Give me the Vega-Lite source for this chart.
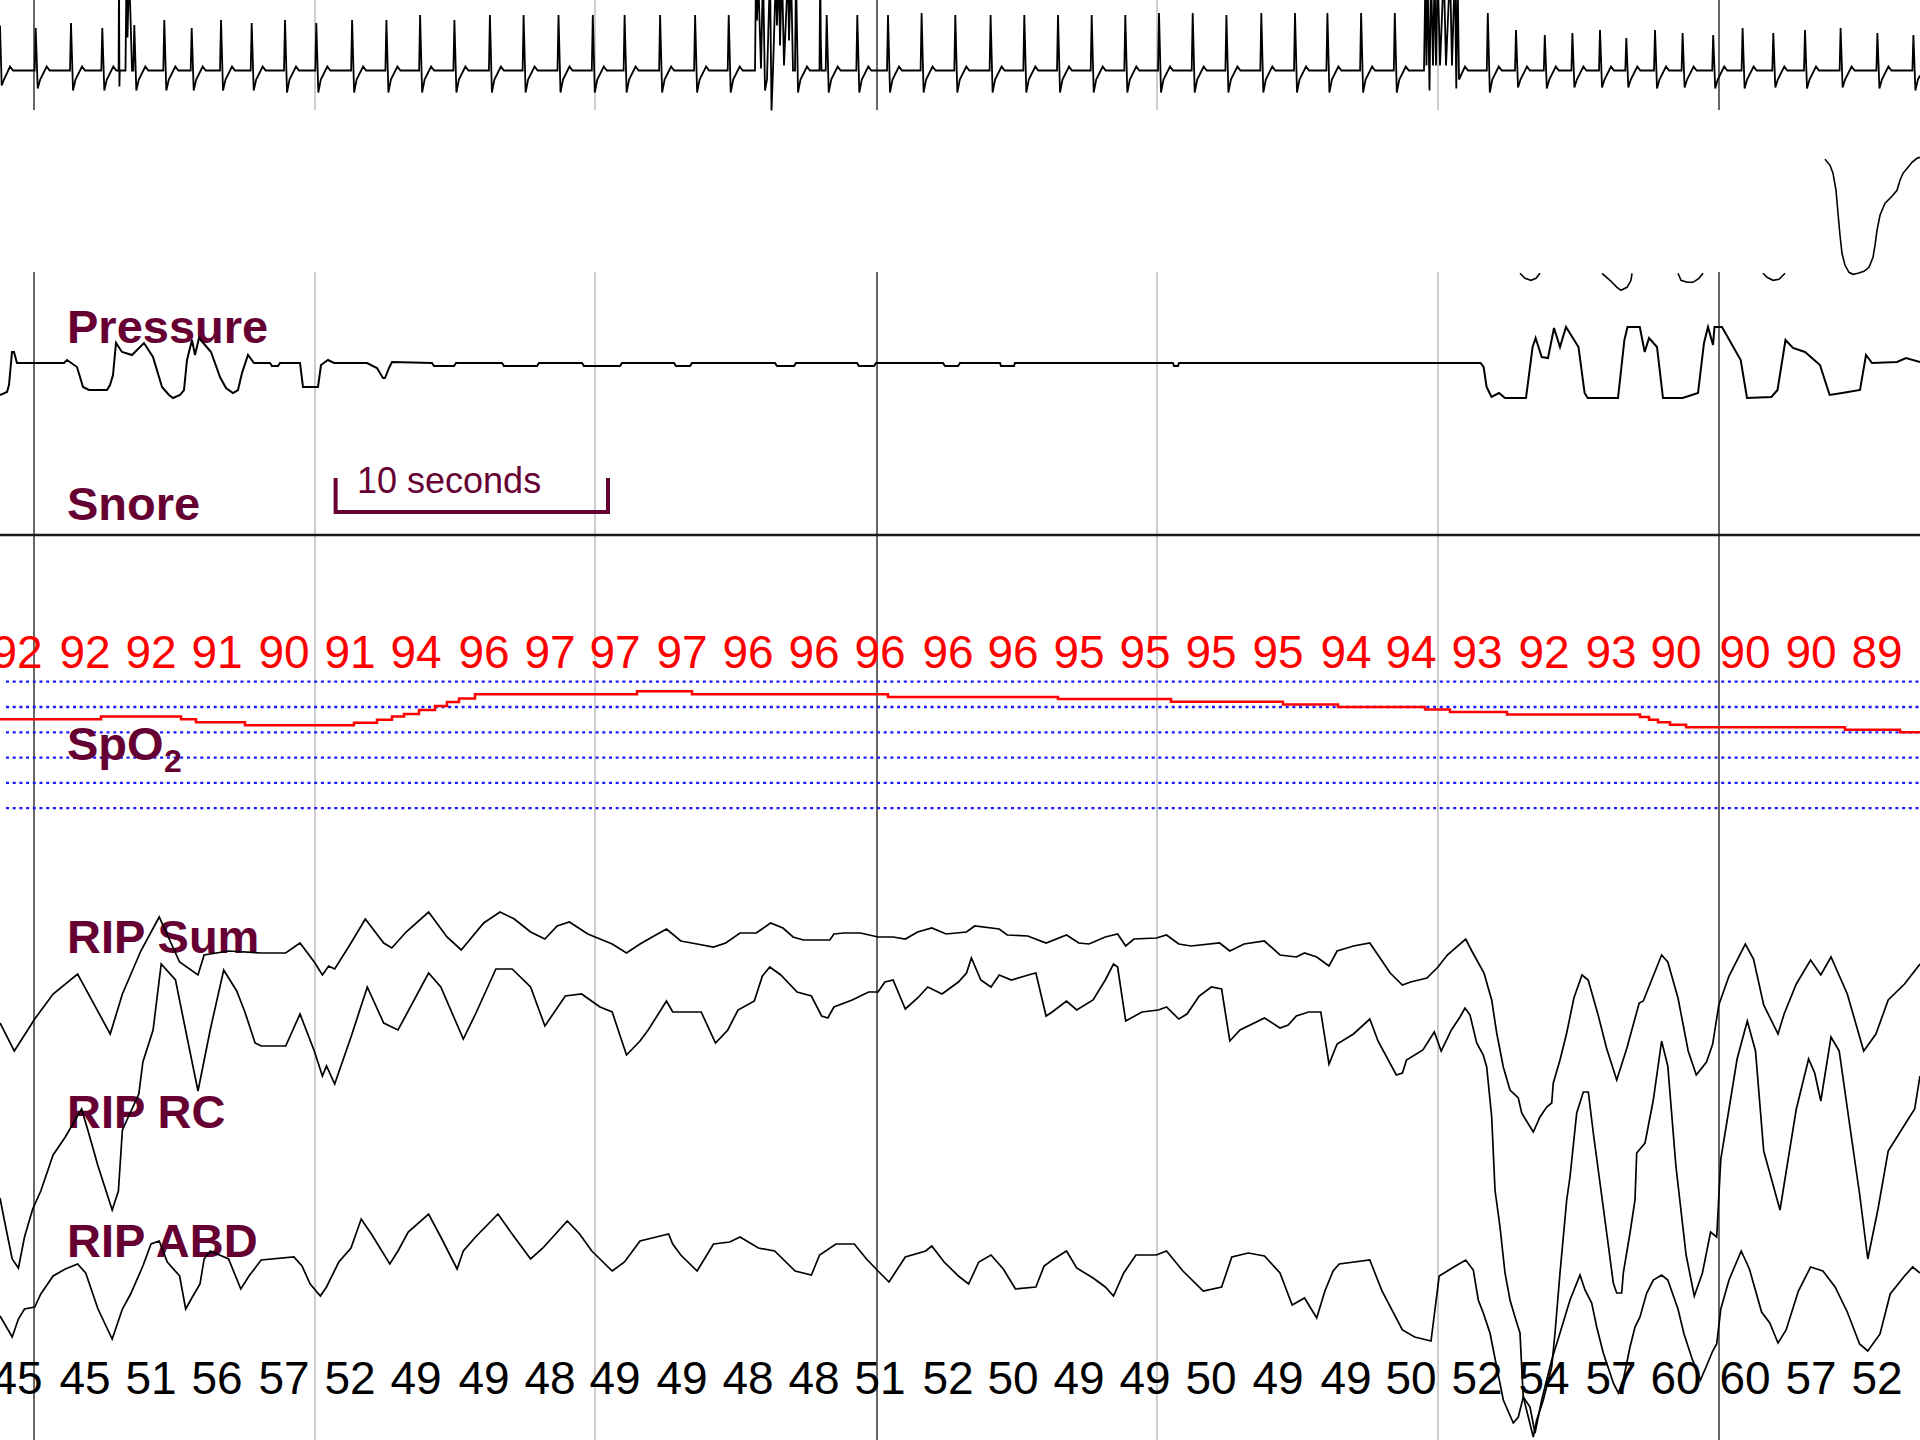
{
  "$schema": "https://vega.github.io/schema/vega-lite/v6.json",
  "width": 1920,
  "height": 1440,
  "padding": 0,
  "autosize": {"type": "none"},
  "background": "white",
  "config": {"view": {"stroke": null}},
  "datasets": {
    "grid": [
      {"t": 34, "kind": "major"}, {"t": 315, "kind": "minor"}, {"t": 595, "kind": "minor"},
      {"t": 877, "kind": "major"}, {"t": 1157, "kind": "minor"}, {"t": 1438, "kind": "minor"},
      {"t": 1719, "kind": "major"}
    ],
    "ecg": [
      {"t":0,"a":45},{"t":1.7,"a":-15},{"t":4,"a":-9},{"t":10,"a":4},{"t":13,"a":0},
      {"t":34.7,"a":0},{"t":35.7,"a":42.5},{"t":37.7,"a":-18},{"t":40.2,"a":-9},{"t":46.7,"a":4},{"t":49.7,"a":0},
      {"t":70,"a":0},{"t":71,"a":47.5},{"t":73,"a":-20},{"t":75.5,"a":-9},{"t":82,"a":4},{"t":85,"a":0},
      {"t":101.3,"a":0},{"t":102.3,"a":42.5},{"t":104.3,"a":-20},{"t":106.8,"a":-9},{"t":113.3,"a":4},{"t":116.3,"a":0},
      {"t":118.6,"a":0},{"t":119,"a":100},{"t":119.4,"a":-16},{"t":119.8,"a":0},{"t":125.5,"a":0},{"t":126.5,"a":100},{"t":127.5,"a":33},{"t":129,"a":100},{"t":130.5,"a":54},{"t":132,"a":0},
      {"t":133.3,"a":0},{"t":134.3,"a":45.5},{"t":136.3,"a":-20},{"t":138.8,"a":-9},{"t":145.3,"a":4},{"t":148.3,"a":0},
      {"t":163.3,"a":0},{"t":164.3,"a":50.5},{"t":166.3,"a":-20},{"t":168.8,"a":-9},{"t":175.3,"a":4},{"t":178.3,"a":0},
      {"t":190.7,"a":0},{"t":191.7,"a":42.5},{"t":193.7,"a":-20},{"t":196.2,"a":-9},{"t":202.7,"a":4},{"t":205.7,"a":0},
      {"t":220,"a":0},{"t":221,"a":50.5},{"t":223,"a":-20},{"t":225.5,"a":-9},{"t":232,"a":4},{"t":235,"a":0},
      {"t":250.7,"a":0},{"t":251.7,"a":47.5},{"t":253.7,"a":-20},{"t":256.2,"a":-9},{"t":262.7,"a":4},{"t":265.7,"a":0},
      {"t":284,"a":0},{"t":285,"a":50.5},{"t":287,"a":-22},{"t":289.5,"a":-9},{"t":296,"a":4},{"t":299,"a":0},
      {"t":315.3,"a":0},{"t":316.3,"a":47.5},{"t":318.3,"a":-22},{"t":320.8,"a":-9},{"t":327.3,"a":4},{"t":330.3,"a":0},
      {"t":351.1,"a":0},{"t":352.1,"a":50.5},{"t":354.1,"a":-22},{"t":356.6,"a":-9},{"t":363.1,"a":4},{"t":366.1,"a":0},
      {"t":385.4,"a":0},{"t":386.4,"a":50.5},{"t":388.4,"a":-22},{"t":390.9,"a":-9},{"t":397.4,"a":4},{"t":400.4,"a":0},
      {"t":419.1,"a":0},{"t":420.1,"a":55.5},{"t":422.1,"a":-22},{"t":424.6,"a":-9},{"t":431.1,"a":4},{"t":434.1,"a":0},
      {"t":453.4,"a":0},{"t":454.4,"a":50.5},{"t":456.4,"a":-22},{"t":458.9,"a":-9},{"t":465.4,"a":4},{"t":468.4,"a":0},
      {"t":488.9,"a":0},{"t":489.9,"a":55.5},{"t":491.9,"a":-22},{"t":494.4,"a":-9},{"t":500.9,"a":4},{"t":503.9,"a":0},
      {"t":522.6,"a":0},{"t":523.6,"a":55.5},{"t":525.6,"a":-22},{"t":528.1,"a":-9},{"t":534.6,"a":4},{"t":537.6,"a":0},
      {"t":557.5,"a":0},{"t":558.5,"a":55.5},{"t":560.5,"a":-22},{"t":563,"a":-9},{"t":569.5,"a":4},{"t":572.5,"a":0},
      {"t":591.8,"a":0},{"t":592.8,"a":55.5},{"t":594.8,"a":-22},{"t":597.3,"a":-9},{"t":603.8,"a":4},{"t":606.8,"a":0},
      {"t":623.6,"a":0},{"t":624.6,"a":55.5},{"t":626.6,"a":-22},{"t":629.1,"a":-9},{"t":635.6,"a":4},{"t":638.6,"a":0},
      {"t":659.1,"a":0},{"t":660.1,"a":55.5},{"t":662.1,"a":-22},{"t":664.6,"a":-9},{"t":671.1,"a":4},{"t":674.1,"a":0},
      {"t":694.1,"a":0},{"t":695.1,"a":55.5},{"t":697.1,"a":-22},{"t":699.6,"a":-9},{"t":706.1,"a":4},{"t":709.1,"a":0},
      {"t":727.7,"a":0},{"t":728.7,"a":55.5},{"t":730.7,"a":-22},{"t":733.2,"a":-9},{"t":739.7,"a":4},{"t":742.7,"a":0},
      {"t":755,"a":0},{"t":756,"a":100},{"t":757,"a":50},{"t":758,"a":100},{"t":761,"a":2},{"t":763,"a":100},{"t":765,"a":-20},{"t":767,"a":-9},{"t":770,"a":100},{"t":771.5,"a":-40},{"t":773,"a":0},
      {"t":776,"a":100},{"t":777,"a":45},{"t":779,"a":100},{"t":780,"a":25},{"t":782,"a":100},{"t":784,"a":5},{"t":788,"a":100},{"t":789,"a":30},{"t":791,"a":100},{"t":793,"a":0},
      {"t":795,"a":0},{"t":796,"a":100},{"t":798,"a":-22},{"t":800.5,"a":-9},{"t":807,"a":4},{"t":810,"a":0},{"t":819.5,"a":0},{"t":820.2,"a":100},{"t":820.8,"a":33},{"t":821.5,"a":0},
      {"t":825.7,"a":0},{"t":826.7,"a":55.5},{"t":828.7,"a":-22},{"t":831.2,"a":-9},{"t":837.7,"a":4},{"t":840.7,"a":0},
      {"t":856.3,"a":0},{"t":857.3,"a":55.5},{"t":859.3,"a":-22},{"t":861.8,"a":-9},{"t":868.3,"a":4},{"t":871.3,"a":0},
      {"t":887,"a":0},{"t":888,"a":55.5},{"t":890,"a":-22},{"t":892.5,"a":-9},{"t":899,"a":4},{"t":902,"a":0},
      {"t":920.6,"a":0},{"t":921.6,"a":57.5},{"t":923.6,"a":-22},{"t":926.1,"a":-9},{"t":932.6,"a":4},{"t":935.6,"a":0},
      {"t":954.3,"a":0},{"t":955.3,"a":55.5},{"t":957.3,"a":-22},{"t":959.8,"a":-9},{"t":966.3,"a":4},{"t":969.3,"a":0},
      {"t":989.6,"a":0},{"t":990.6,"a":55.5},{"t":992.6,"a":-22},{"t":995.1,"a":-9},{"t":1001.6,"a":4},{"t":1004.6,"a":0},
      {"t":1023.3,"a":0},{"t":1024.3,"a":55.5},{"t":1026.3,"a":-22},{"t":1028.8,"a":-9},{"t":1035.3,"a":4},{"t":1038.3,"a":0},
      {"t":1057,"a":0},{"t":1058,"a":55.5},{"t":1060,"a":-22},{"t":1062.5,"a":-9},{"t":1069,"a":4},{"t":1072,"a":0},
      {"t":1090.7,"a":0},{"t":1091.7,"a":55.5},{"t":1093.7,"a":-22},{"t":1096.2,"a":-9},{"t":1102.7,"a":4},{"t":1105.7,"a":0},
      {"t":1124.3,"a":0},{"t":1125.3,"a":55.5},{"t":1127.3,"a":-22},{"t":1129.8,"a":-9},{"t":1136.3,"a":4},{"t":1139.3,"a":0},
      {"t":1158,"a":0},{"t":1159,"a":57.5},{"t":1161,"a":-22},{"t":1163.5,"a":-9},{"t":1170,"a":4},{"t":1173,"a":0},
      {"t":1191.7,"a":0},{"t":1192.7,"a":57.5},{"t":1194.7,"a":-22},{"t":1197.2,"a":-9},{"t":1203.7,"a":4},{"t":1206.7,"a":0},
      {"t":1225.4,"a":0},{"t":1226.4,"a":55.5},{"t":1228.4,"a":-22},{"t":1230.9,"a":-9},{"t":1237.4,"a":4},{"t":1240.4,"a":0},
      {"t":1260.3,"a":0},{"t":1261.3,"a":57.5},{"t":1263.3,"a":-22},{"t":1265.8,"a":-9},{"t":1272.3,"a":4},{"t":1275.3,"a":0},
      {"t":1294,"a":0},{"t":1295,"a":57.5},{"t":1297,"a":-22},{"t":1299.5,"a":-9},{"t":1306,"a":4},{"t":1309,"a":0},
      {"t":1326.4,"a":0},{"t":1327.4,"a":57.5},{"t":1329.4,"a":-22},{"t":1331.9,"a":-9},{"t":1338.4,"a":4},{"t":1341.4,"a":0},
      {"t":1360.1,"a":0},{"t":1361.1,"a":57.5},{"t":1363.1,"a":-22},{"t":1365.6,"a":-9},{"t":1372.1,"a":4},{"t":1375.1,"a":0},
      {"t":1393.8,"a":0},{"t":1394.8,"a":57.5},{"t":1396.8,"a":-22},{"t":1399.3,"a":-9},{"t":1405.8,"a":4},{"t":1408.8,"a":0},
      {"t":1424,"a":0},{"t":1425.5,"a":100},{"t":1426.5,"a":5},{"t":1427.5,"a":100},{"t":1429.5,"a":-20},{"t":1431,"a":100},{"t":1433,"a":5},{"t":1434.6,"a":100},{"t":1436,"a":5},{"t":1437.7,"a":100},{"t":1440,"a":5},{"t":1443.8,"a":100},{"t":1446,"a":5},{"t":1450,"a":100},{"t":1452,"a":5},{"t":1454.8,"a":100},{"t":1456.3,"a":-18},{"t":1457.5,"a":100},{"t":1459,"a":-9},{"t":1465,"a":4},{"t":1468,"a":0},
      {"t":1486.8,"a":0},{"t":1487.8,"a":57.5},{"t":1489.8,"a":-22},{"t":1492.3,"a":-9},{"t":1498.8,"a":4},{"t":1501.8,"a":0},
      {"t":1515,"a":0},{"t":1516,"a":40.5},{"t":1518,"a":-17},{"t":1520.5,"a":-9},{"t":1527,"a":4},{"t":1530,"a":0},
      {"t":1543.8,"a":0},{"t":1544.8,"a":35.5},{"t":1546.8,"a":-18},{"t":1549.3,"a":-9},{"t":1555.8,"a":4},{"t":1558.8,"a":0},
      {"t":1571.4,"a":0},{"t":1572.4,"a":37.5},{"t":1574.4,"a":-17},{"t":1576.9,"a":-9},{"t":1583.4,"a":4},{"t":1586.4,"a":0},
      {"t":1599,"a":0},{"t":1600,"a":40.5},{"t":1602,"a":-17},{"t":1604.5,"a":-9},{"t":1611,"a":4},{"t":1614,"a":0},
      {"t":1625.3,"a":0},{"t":1626.3,"a":32.5},{"t":1628.3,"a":-17},{"t":1630.8,"a":-9},{"t":1637.3,"a":4},{"t":1640.3,"a":0},
      {"t":1654,"a":0},{"t":1655,"a":40.5},{"t":1657,"a":-18},{"t":1659.5,"a":-9},{"t":1666,"a":4},{"t":1669,"a":0},
      {"t":1681.6,"a":0},{"t":1682.6,"a":37.5},{"t":1684.6,"a":-17},{"t":1687.1,"a":-9},{"t":1693.6,"a":4},{"t":1696.6,"a":0},
      {"t":1712.2,"a":0},{"t":1713.2,"a":35.5},{"t":1715.2,"a":-18},{"t":1717.7,"a":-9},{"t":1724.2,"a":4},{"t":1727.2,"a":0},
      {"t":1741.6,"a":0},{"t":1742.6,"a":42.5},{"t":1744.6,"a":-18},{"t":1747.1,"a":-9},{"t":1753.6,"a":4},{"t":1756.6,"a":0},
      {"t":1772.3,"a":0},{"t":1773.3,"a":37.5},{"t":1775.3,"a":-17},{"t":1777.8,"a":-9},{"t":1784.3,"a":4},{"t":1787.3,"a":0},
      {"t":1804,"a":0},{"t":1805,"a":40.5},{"t":1807,"a":-18},{"t":1809.5,"a":-9},{"t":1816,"a":4},{"t":1819,"a":0},
      {"t":1839.6,"a":0},{"t":1840.6,"a":42.5},{"t":1842.6,"a":-17},{"t":1845.1,"a":-9},{"t":1851.6,"a":4},{"t":1854.6,"a":0},
      {"t":1876.4,"a":0},{"t":1877.4,"a":37.5},{"t":1879.4,"a":-18},{"t":1881.9,"a":-9},{"t":1888.4,"a":4},{"t":1891.4,"a":0},
      {"t":1912.4,"a":0},{"t":1913.4,"a":35.5},{"t":1915.4,"a":-20},{"t":1917.9,"a":-9},{"t":1920,"a":-5}
    ],
    "flow": [
      {"seg":1,"t":1520,"a":0},{"seg":1,"t":1525,"a":-5},{"seg":1,"t":1531,"a":-7},{"seg":1,"t":1536,"a":-5},{"seg":1,"t":1540,"a":0},
      {"seg":2,"t":1602,"a":0},{"seg":2,"t":1610,"a":-7},{"seg":2,"t":1617,"a":-14},{"seg":2,"t":1621,"a":-17},{"seg":2,"t":1627,"a":-14},{"seg":2,"t":1631,"a":-7},{"seg":2,"t":1632,"a":0},
      {"seg":3,"t":1678,"a":0},{"seg":3,"t":1681,"a":-7},{"seg":3,"t":1687,"a":-9},{"seg":3,"t":1693,"a":-9},{"seg":3,"t":1699,"a":-5},{"seg":3,"t":1703,"a":0},
      {"seg":4,"t":1763,"a":0},{"seg":4,"t":1767,"a":-4},{"seg":4,"t":1773,"a":-7},{"seg":4,"t":1779,"a":-6},{"seg":4,"t":1785,"a":0},
      {"seg":5,"t":1825,"a":114},{"seg":5,"t":1830,"a":108},{"seg":5,"t":1833,"a":100},{"seg":5,"t":1836,"a":83},{"seg":5,"t":1838,"a":60},{"seg":5,"t":1840,"a":38},{"seg":5,"t":1842,"a":20},{"seg":5,"t":1845,"a":8},{"seg":5,"t":1849,"a":1},{"seg":5,"t":1853,"a":-1},{"seg":5,"t":1858,"a":0},{"seg":5,"t":1864,"a":2},{"seg":5,"t":1869,"a":6},{"seg":5,"t":1873,"a":16},{"seg":5,"t":1875,"a":28},{"seg":5,"t":1877,"a":43},{"seg":5,"t":1880,"a":58},{"seg":5,"t":1885,"a":70},{"seg":5,"t":1892,"a":77},{"seg":5,"t":1897,"a":83},{"seg":5,"t":1900,"a":93},{"seg":5,"t":1903,"a":100},{"seg":5,"t":1908,"a":106},{"seg":5,"t":1912,"a":111},{"seg":5,"t":1917,"a":115},{"seg":5,"t":1920,"a":116}
    ],
    "pressure": [
      {"t":0,"a":-32},{"t":7,"a":-29},{"t":9,"a":-22},{"t":12,"a":11},{"t":14,"a":11},{"t":17,"a":0},{"t":64,"a":0},{"t":67,"a":3},{"t":77,"a":-4},{"t":80,"a":-14},{"t":83,"a":-24},{"t":89,"a":-27},{"t":107,"a":-27},{"t":110,"a":-22},{"t":113,"a":-12},{"t":116,"a":20},{"t":122,"a":11},{"t":132,"a":8},{"t":144,"a":20},{"t":153,"a":6},{"t":162,"a":-24},{"t":169,"a":-32},{"t":173,"a":-35},{"t":180,"a":-32},{"t":184,"a":-27},{"t":187,"a":3},{"t":192,"a":23},{"t":195,"a":8},{"t":199,"a":25},{"t":205,"a":18},{"t":211,"a":11},{"t":220,"a":-14},{"t":226,"a":-25},{"t":233,"a":-30},{"t":238,"a":-27},{"t":242,"a":-10},{"t":248,"a":8},{"t":254,"a":0},
      {"t":270,"a":0},{"t":272,"a":-3},{"t":278,"a":-3},{"t":280,"a":0},{"t":300,"a":0},{"t":303,"a":-24},{"t":318,"a":-24},{"t":321,"a":-2},{"t":328,"a":3},{"t":334,"a":0},{"t":367,"a":0},{"t":377,"a":-5},{"t":383,"a":-15},{"t":385,"a":-15},{"t":389,"a":-5},{"t":392,"a":1},
      {"t":432,"a":0},{"t":434,"a":-3},{"t":454,"a":-3},{"t":456,"a":0},{"t":502,"a":0},{"t":504,"a":-3},{"t":537,"a":-3},{"t":539,"a":0},{"t":582,"a":0},{"t":584,"a":-3},{"t":620,"a":-3},{"t":622,"a":0},
      {"t":674,"a":0},{"t":676,"a":-3},{"t":690,"a":-3},{"t":692,"a":0},{"t":775,"a":0},{"t":777,"a":-3},{"t":794,"a":-3},{"t":796,"a":0},{"t":857,"a":0},{"t":859,"a":-3},{"t":874,"a":-3},{"t":876,"a":0},{"t":943,"a":0},{"t":945,"a":-3},{"t":958,"a":-3},{"t":960,"a":0},
      {"t":1000,"a":0},{"t":1001,"a":-3},{"t":1014,"a":-3},{"t":1015,"a":0},{"t":1173,"a":0},{"t":1174,"a":-3},{"t":1178,"a":-3},{"t":1179,"a":0},
      {"t":1480.5,"a":0},{"t":1483.6,"a":-4},{"t":1486.6,"a":-24},{"t":1491.5,"a":-34},{"t":1499,"a":-30},{"t":1505,"a":-35},{"t":1526,"a":-35},{"t":1532.6,"a":16},{"t":1535.6,"a":25},{"t":1541.7,"a":6},{"t":1548,"a":5},{"t":1554,"a":35},{"t":1560,"a":16},{"t":1566,"a":36},{"t":1578.5,"a":16},{"t":1584.6,"a":-30},{"t":1587.7,"a":-35},{"t":1618,"a":-35},{"t":1624.4,"a":23},{"t":1627.5,"a":36},{"t":1639.8,"a":36},{"t":1644.7,"a":11},{"t":1649,"a":25},{"t":1657,"a":16},{"t":1663,"a":-35},{"t":1682.6,"a":-35},{"t":1698,"a":-30},{"t":1704,"a":20},{"t":1708,"a":36},{"t":1713,"a":18},{"t":1714.5,"a":36},{"t":1722,"a":36},{"t":1740.7,"a":3},{"t":1747,"a":-35},{"t":1771.4,"a":-34},{"t":1777.5,"a":-27},{"t":1785.5,"a":23},{"t":1793,"a":15},{"t":1805,"a":11},{"t":1820,"a":-2},{"t":1829.6,"a":-32},{"t":1842,"a":-30},{"t":1860,"a":-27},{"t":1866,"a":8},{"t":1872,"a":0},{"t":1897,"a":1},{"t":1906,"a":5},{"t":1920,"a":1}
    ],
    "snore": [{"t": 0, "a": 0}, {"t": 1920, "a": 0}],
    "bracket": [{"i": 1, "t": 335.6, "a": 55}, {"i": 2, "t": 335.6, "a": 23}, {"i": 3, "t": 608, "a": 23}, {"i": 4, "t": 608, "a": 55}],
    "spo2grid": [{"v": 100}, {"v": 95}, {"v": 90}, {"v": 85}, {"v": 80}, {"v": 75}],
    "spo2": [
      {"t":0,"v":92.6},{"t":101,"v":93.1},{"t":181,"v":92.6},{"t":196,"v":92.0},{"t":245,"v":91.4},{"t":354,"v":91.9},{"t":377,"v":92.5},{"t":392,"v":93.1},{"t":404,"v":93.6},{"t":419,"v":94.4},{"t":435,"v":95.2},{"t":447,"v":96.0},{"t":459,"v":96.7},{"t":475,"v":97.5},{"t":637,"v":98.1},{"t":692,"v":97.5},{"t":888,"v":97.0},{"t":1058,"v":96.6},{"t":1171,"v":96.05},{"t":1283,"v":95.5},{"t":1338,"v":95.0},{"t":1425,"v":94.5},{"t":1450,"v":94.0},{"t":1507,"v":93.5},{"t":1640,"v":93.0},{"t":1649,"v":92.5},{"t":1658,"v":92.0},{"t":1670,"v":91.5},{"t":1686,"v":91.0},{"t":1845,"v":90.5},{"t":1900,"v":90.0},{"t":1920,"v":90.0}
    ],
    "readings": [
      {"t":17,"spo2":92,"hr":45},{"t":85,"spo2":92,"hr":45},{"t":151,"spo2":92,"hr":51},{"t":217,"spo2":91,"hr":56},{"t":284,"spo2":90,"hr":57},{"t":350,"spo2":91,"hr":52},{"t":416,"spo2":94,"hr":49},{"t":484,"spo2":96,"hr":49},{"t":550,"spo2":97,"hr":48},{"t":615,"spo2":97,"hr":49},
      {"t":682,"spo2":97,"hr":49},{"t":748,"spo2":96,"hr":48},{"t":814,"spo2":96,"hr":48},{"t":880,"spo2":96,"hr":51},{"t":948,"spo2":96,"hr":52},{"t":1013,"spo2":96,"hr":50},{"t":1079,"spo2":95,"hr":49},{"t":1145,"spo2":95,"hr":49},{"t":1211,"spo2":95,"hr":50},{"t":1278,"spo2":95,"hr":49},
      {"t":1346,"spo2":94,"hr":49},{"t":1411,"spo2":94,"hr":50},{"t":1477,"spo2":93,"hr":52},{"t":1544,"spo2":92,"hr":54},{"t":1611,"spo2":93,"hr":57},{"t":1676,"spo2":90,"hr":60},{"t":1745,"spo2":90,"hr":60},{"t":1811,"spo2":90,"hr":57},{"t":1877,"spo2":89,"hr":52}
    ],
    "ripsum": [
      {"t":0,"a":-78},{"t":14.3,"a":-106},{"t":34.7,"a":-74},{"t":53.1,"a":-49},{"t":77.6,"a":-29},{"t":110.2,"a":-89},{"t":122.4,"a":-49},{"t":140.8,"a":-6},{"t":159.2,"a":28},{"t":179.6,"a":-17},{"t":198,"a":-30},{"t":204.1,"a":-10},{"t":228.6,"a":-6},{"t":261.2,"a":-8},{"t":285.7,"a":-8},{"t":300,"a":2},{"t":314.3,"a":-17},{"t":322.4,"a":-30},{"t":328.6,"a":-21},{"t":334.7,"a":-24},{"t":351,"a":2},{"t":365.3,"a":26},{"t":383.7,"a":2},{"t":391.8,"a":-3},{"t":406.1,"a":13},{"t":428.6,"a":33},{"t":447,"a":8},{"t":461.2,"a":-5},{"t":483.7,"a":22},{"t":500,"a":33},{"t":514.3,"a":26},{"t":530.6,"a":13},{"t":544.9,"a":6},{"t":557.1,"a":19},{"t":569.4,"a":23},{"t":587.8,"a":11},{"t":600,"a":6},{"t":612.2,"a":1},{"t":626.5,"a":-8},
      {"t":640,"a":1},{"t":652.2,"a":8},{"t":666.5,"a":16},{"t":680.8,"a":4},{"t":697.1,"a":1},{"t":713.5,"a":-2},{"t":725.7,"a":2},{"t":740,"a":12},{"t":756.3,"a":12},{"t":770.6,"a":22},{"t":782.9,"a":17},{"t":793.1,"a":8},{"t":803.3,"a":5},{"t":829.8,"a":5},{"t":833.9,"a":11},{"t":844.1,"a":12},{"t":860.4,"a":12},{"t":878,"a":8},{"t":893.1,"a":8},{"t":905.3,"a":6},{"t":917.6,"a":13},{"t":931.8,"a":17},{"t":946.1,"a":11},{"t":966.5,"a":13},{"t":974.7,"a":19},{"t":999.2,"a":16},{"t":1007.3,"a":10},{"t":1027.8,"a":9},{"t":1046.1,"a":2},{"t":1066.5,"a":10},{"t":1078.8,"a":2},{"t":1089,"a":1},{"t":1105.3,"a":8},{"t":1117.6,"a":11},{"t":1125.7,"a":-1},{"t":1133.9,"a":6},{"t":1156.3,"a":7},{"t":1166.5,"a":10},{"t":1178.8,"a":1},{"t":1191,"a":-1},{"t":1219.6,"a":2},{"t":1229.8,"a":-6},{"t":1244.1,"a":1},{"t":1264.5,"a":4},
      {"t":1280,"a":-10},{"t":1296.3,"a":-12},{"t":1304.5,"a":-8},{"t":1316.7,"a":-12},{"t":1329,"a":-21},{"t":1337.1,"a":-6},{"t":1353.5,"a":-1},{"t":1369.8,"a":2},{"t":1378,"a":-10},{"t":1390.2,"a":-28},{"t":1402.4,"a":-40},{"t":1410.6,"a":-37},{"t":1426.9,"a":-33},{"t":1438,"a":-22},{"t":1447.3,"a":-10},{"t":1465.7,"a":6},{"t":1471.8,"a":-6},{"t":1484,"a":-28},{"t":1491.7,"a":-55},{"t":1496.7,"a":-88},{"t":1503.3,"a":-122},{"t":1510,"a":-145},{"t":1518.3,"a":-153},{"t":1521.7,"a":-168},{"t":1533.3,"a":-187},{"t":1540,"a":-172},{"t":1546.7,"a":-162},{"t":1551.7,"a":-158},{"t":1553.3,"a":-138},{"t":1560,"a":-115},{"t":1566.7,"a":-88},{"t":1573.9,"a":-53},{"t":1582,"a":-30},{"t":1588.2,"a":-35},{"t":1598.4,"a":-71},{"t":1606.5,"a":-103},{"t":1616.7,"a":-135},{"t":1626.9,"a":-103},{"t":1639.2,"a":-58},{"t":1643.3,"a":-56},{"t":1661.6,"a":-10},{"t":1667.8,"a":-17},{"t":1678,"a":-53},{"t":1688.2,"a":-106},{"t":1696.3,"a":-130},{"t":1706.5,"a":-117},{"t":1712.7,"a":-99},{"t":1718.8,"a":-60},{"t":1729,"a":-31},{"t":1745.3,"a":1},{"t":1753.5,"a":-14},{"t":1763.7,"a":-60},{"t":1778,"a":-89},{"t":1784.1,"a":-69},{"t":1796.3,"a":-39},{"t":1810.6,"a":-15},{"t":1820.8,"a":-30},{"t":1831,"a":-12},{"t":1847.3,"a":-49},{"t":1863.7,"a":-106},{"t":1875.9,"a":-89},{"t":1888.2,"a":-55},{"t":1904.5,"a":-39},{"t":1920,"a":-19}
    ],
    "riprc": [
      {"t":0,"a":-188},{"t":4.1,"a":-209},{"t":12.2,"a":-249},{"t":18.4,"a":-258},{"t":24.5,"a":-227},{"t":32.7,"a":-199},{"t":40.8,"a":-181},{"t":53.1,"a":-145},{"t":65.3,"a":-127},{"t":81.6,"a":-99},{"t":87.8,"a":-120},{"t":98,"a":-156},{"t":112.2,"a":-200},{"t":118.4,"a":-181},{"t":122.4,"a":-120},{"t":138.8,"a":-84},{"t":142.9,"a":-52},{"t":153.1,"a":-20},{"t":161.2,"a":46},{"t":175.5,"a":30},{"t":187.8,"a":-31},{"t":198,"a":-81},{"t":210.2,"a":-20},{"t":223.7,"a":40},{"t":236.7,"a":19},{"t":244.9,"a":-2},{"t":255.1,"a":-33},{"t":261.2,"a":-36},{"t":285.7,"a":-36},{"t":300,"a":-4},{"t":314.3,"a":-41},{"t":322.4,"a":-66},{"t":326.5,"a":-56},{"t":334.7,"a":-74},{"t":351,"a":-27},{"t":367.3,"a":23},{"t":383.7,"a":-13},{"t":398,"a":-20},{"t":428.6,"a":37},{"t":440.8,"a":23},{"t":463.3,"a":-29},{"t":475.5,"a":-4},{"t":495.9,"a":41},{"t":512.2,"a":41},{"t":530.6,"a":23},{"t":544.9,"a":-16},{"t":565.3,"a":14},{"t":581.6,"a":16},{"t":600,"a":3},{"t":612.2,"a":-2},{"t":626.5,"a":-45},
      {"t":640,"a":-31},{"t":648.2,"a":-20},{"t":666.5,"a":9},{"t":672.7,"a":-2},{"t":701.2,"a":-2},{"t":715.5,"a":-33},{"t":727.8,"a":-20},{"t":738,"a":0},{"t":754.3,"a":9},{"t":762.4,"a":34},{"t":769.8,"a":43},{"t":780.8,"a":35},{"t":797.1,"a":18},{"t":811.4,"a":14},{"t":821.6,"a":-6},{"t":827.8,"a":-8},{"t":833.9,"a":3},{"t":852.2,"a":10},{"t":868.6,"a":18},{"t":878,"a":18},{"t":884.9,"a":28},{"t":893.1,"a":30},{"t":905.3,"a":1},{"t":917.6,"a":12},{"t":927.8,"a":23},{"t":942,"a":16},{"t":958.4,"a":28},{"t":966.5,"a":37},{"t":971.4,"a":52},{"t":980.8,"a":30},{"t":991,"a":23},{"t":999.2,"a":35},{"t":1011.4,"a":30},{"t":1031.8,"a":36},{"t":1035.9,"a":37},{"t":1046.1,"a":-6},{"t":1052.2,"a":-2},{"t":1066.5,"a":9},{"t":1076.7,"a":0},{"t":1093.1,"a":10},{"t":1105.3,"a":30},{"t":1113.5,"a":46},{"t":1117.6,"a":43},{"t":1125.7,"a":-11},{"t":1142,"a":-2},{"t":1158.4,"a":0},{"t":1166.5,"a":3},{"t":1178.8,"a":-9},{"t":1187,"a":-4},{"t":1199.2,"a":14},{"t":1211.4,"a":23},{"t":1221.6,"a":21},{"t":1229.8,"a":-31},{"t":1240,"a":-20},{"t":1264.5,"a":-8},
      {"t":1280,"a":-18},{"t":1288.2,"a":-15},{"t":1296.3,"a":-6},{"t":1308.6,"a":-2},{"t":1320.8,"a":-2},{"t":1329,"a":-54},{"t":1337.1,"a":-34},{"t":1353.5,"a":-24},{"t":1369.8,"a":-9},{"t":1378,"a":-31},{"t":1396.3,"a":-65},{"t":1402.4,"a":-63},{"t":1406.5,"a":-50},{"t":1422.9,"a":-40},{"t":1434.3,"a":-22},{"t":1441.2,"a":-41},{"t":1451.4,"a":-20},{"t":1460,"a":-7},{"t":1465,"a":2},{"t":1470,"a":-5},{"t":1476.7,"a":-33},{"t":1483.3,"a":-45},{"t":1486.7,"a":-57},{"t":1491.7,"a":-107},{"t":1495,"a":-180},{"t":1500,"a":-217},{"t":1505,"a":-263},{"t":1510,"a":-290},{"t":1515,"a":-307},{"t":1520,"a":-323},{"t":1521.7,"a":-357},{"t":1523.3,"a":-387},{"t":1533.3,"a":-427},{"t":1536.7,"a":-410},{"t":1543.3,"a":-390},{"t":1551.7,"a":-357},{"t":1555,"a":-323},{"t":1560,"a":-263},{"t":1566.7,"a":-190},{"t":1570,"a":-167},{"t":1576.7,"a":-103},{"t":1583.3,"a":-82},{"t":1588.3,"a":-82},{"t":1593.3,"a":-123},{"t":1600,"a":-173},{"t":1606.7,"a":-223},{"t":1613.3,"a":-273},{"t":1616.7,"a":-283},{"t":1621.7,"a":-283},{"t":1623.3,"a":-263},{"t":1630,"a":-223},{"t":1635,"a":-190},{"t":1636.7,"a":-143},{"t":1645,"a":-133},{"t":1653.3,"a":-90},{"t":1661.6,"a":-31},{"t":1667.8,"a":-56},{"t":1675.9,"a":-156},{"t":1686.1,"a":-245},{"t":1694.3,"a":-286},{"t":1702.4,"a":-263},{"t":1710.6,"a":-222},{"t":1716.7,"a":-227},{"t":1720.8,"a":-149},{"t":1729,"a":-99},{"t":1737.1,"a":-49},{"t":1747.3,"a":-11},{"t":1755.5,"a":-41},{"t":1763.7,"a":-141},{"t":1769.8,"a":-163},{"t":1780,"a":-200},{"t":1788.2,"a":-149},{"t":1796.3,"a":-99},{"t":1808.6,"a":-49},{"t":1814.7,"a":-63},{"t":1820.8,"a":-91},{"t":1831,"a":-27},{"t":1839.2,"a":-41},{"t":1851.4,"a":-127},{"t":1859.6,"a":-184},{"t":1867.8,"a":-249},{"t":1878,"a":-199},{"t":1888.2,"a":-141},{"t":1904.5,"a":-115},{"t":1914.7,"a":-99},{"t":1920,"a":-66}
    ],
    "ripabd": [
      {"t":0,"a":-26},{"t":12.2,"a":-47},{"t":18.4,"a":-29},{"t":24.5,"a":-19},{"t":34.7,"a":-17},{"t":40.8,"a":-4},{"t":53.1,"a":14},{"t":65.3,"a":21},{"t":77.6,"a":26},{"t":85.7,"a":17},{"t":98,"a":-19},{"t":112.2,"a":-49},{"t":122.4,"a":-19},{"t":130.6,"a":-4},{"t":142.9,"a":24},{"t":151,"a":46},{"t":159.2,"a":49},{"t":167.3,"a":28},{"t":179.6,"a":14},{"t":185.7,"a":-19},{"t":191.8,"a":-8},{"t":200,"a":6},{"t":204.1,"a":31},{"t":210.2,"a":39},{"t":228.6,"a":31},{"t":240.8,"a":1},{"t":249,"a":14},{"t":261.2,"a":30},{"t":293.9,"a":33},{"t":302,"a":24},{"t":310.2,"a":6},{"t":320.4,"a":-6},{"t":326.5,"a":3},{"t":338.8,"a":28},{"t":351,"a":42},{"t":361.2,"a":71},{"t":371.4,"a":56},{"t":389.8,"a":26},{"t":398,"a":39},{"t":408.2,"a":58},{"t":428.6,"a":76},{"t":440.8,"a":53},{"t":457.1,"a":21},{"t":463.3,"a":39},{"t":475.5,"a":53},{"t":498,"a":76},{"t":514.3,"a":53},{"t":530.6,"a":31},{"t":542.9,"a":42},{"t":567.3,"a":69},{"t":579.6,"a":56},{"t":591.8,"a":39},{"t":612.2,"a":19},{"t":624.5,"a":28},
      {"t":640,"a":49},{"t":656.3,"a":53},{"t":668.6,"a":56},{"t":672.7,"a":46},{"t":680.8,"a":35},{"t":697.1,"a":19},{"t":713.5,"a":46},{"t":729.8,"a":48},{"t":740,"a":53},{"t":758.4,"a":42},{"t":774.7,"a":39},{"t":795.1,"a":19},{"t":811.4,"a":15},{"t":819.6,"a":35},{"t":835.9,"a":46},{"t":854.3,"a":46},{"t":866.5,"a":31},{"t":878,"a":19},{"t":889,"a":8},{"t":905.3,"a":33},{"t":925.7,"a":39},{"t":931.8,"a":44},{"t":944.1,"a":28},{"t":958.4,"a":14},{"t":968.6,"a":6},{"t":978.8,"a":28},{"t":991,"a":35},{"t":1003.3,"a":21},{"t":1015.5,"a":1},{"t":1035.9,"a":3},{"t":1044.1,"a":24},{"t":1052.2,"a":30},{"t":1066.5,"a":39},{"t":1076.7,"a":22},{"t":1093.1,"a":12},{"t":1105.3,"a":3},{"t":1113.5,"a":-6},{"t":1123.7,"a":17},{"t":1135.9,"a":35},{"t":1156.3,"a":35},{"t":1166.5,"a":39},{"t":1182.9,"a":19},{"t":1203.3,"a":-1},{"t":1221.6,"a":3},{"t":1231.8,"a":33},{"t":1248.2,"a":37},{"t":1264.5,"a":34},
      {"t":1280,"a":17},{"t":1292.2,"a":-15},{"t":1304.5,"a":-8},{"t":1316.7,"a":-28},{"t":1324.9,"a":-1},{"t":1333.1,"a":19},{"t":1339.2,"a":26},{"t":1369.8,"a":30},{"t":1382,"a":-1},{"t":1402.4,"a":-40},{"t":1414.7,"a":-47},{"t":1431,"a":-51},{"t":1439.2,"a":14},{"t":1455.5,"a":24},{"t":1465.7,"a":30},{"t":1473.3,"a":20},{"t":1478.3,"a":-10},{"t":1483.3,"a":-23},{"t":1490,"a":-43},{"t":1496.7,"a":-77},{"t":1503.3,"a":-110},{"t":1513.3,"a":-133},{"t":1518.3,"a":-127},{"t":1523.3,"a":-107},{"t":1530,"a":-117},{"t":1535,"a":-143},{"t":1541.7,"a":-110},{"t":1551.7,"a":-70},{"t":1560,"a":-43},{"t":1570,"a":-10},{"t":1580,"a":15},{"t":1585,"a":0},{"t":1591.7,"a":-13},{"t":1596.7,"a":-37},{"t":1603.3,"a":-63},{"t":1613.3,"a":-93},{"t":1618.3,"a":-103},{"t":1623.3,"a":-90},{"t":1630,"a":-57},{"t":1635,"a":-37},{"t":1640,"a":-27},{"t":1646.7,"a":-3},{"t":1653.3,"a":10},{"t":1661.6,"a":15},{"t":1667.8,"a":10},{"t":1678,"a":-19},{"t":1684,"a":-44},{"t":1692.2,"a":-69},{"t":1700.4,"a":-90},{"t":1706.5,"a":-76},{"t":1712.7,"a":-61},{"t":1716.7,"a":-54},{"t":1720.8,"a":-19},{"t":1729,"a":10},{"t":1741.2,"a":39},{"t":1749.4,"a":21},{"t":1761.6,"a":-22},{"t":1769.8,"a":-33},{"t":1778,"a":-53},{"t":1786.1,"a":-40},{"t":1798.4,"a":-1},{"t":1810.6,"a":23},{"t":1822.9,"a":19},{"t":1835.1,"a":3},{"t":1847.3,"a":-22},{"t":1859.6,"a":-54},{"t":1867.8,"a":-61},{"t":1880,"a":-44},{"t":1890.2,"a":-4},{"t":1904.5,"a":14},{"t":1912.7,"a":23},{"t":1920,"a":17}
    ]
  },
  "resolve": {"scale": {"y": "independent"}},
  "layer": [
    {
      "layer": [
        {
          "data": {"name": "grid"},
          "mark": {"type": "rule", "strokeWidth": 2},
          "encoding": {
            "x": {"field": "t", "type": "quantitative", "scale": {"domain": [0, 1920], "nice": false, "zero": false}, "axis": null},
            "y": {"datum": 70.5, "type": "quantitative", "scale": {"domain": [-1369.5, 70.5], "nice": false, "zero": false}, "axis": null},
            "y2": {"datum": -39.5},
            "color": {"condition": {"test": "datum.kind === 'major'", "value": "#6b6662"}, "value": "#cdcdcd"}
          }
        },
        {
          "data": {"name": "ecg"},
          "mark": {"type": "line", "color": "#000000", "strokeWidth": 1.8, "clip": true},
          "encoding": {
            "x": {"field": "t", "type": "quantitative", "scale": {"domain": [0, 1920], "nice": false, "zero": false}, "axis": null},
            "y": {"field": "a", "type": "quantitative", "scale": {"domain": [-1369.5, 70.5], "nice": false, "zero": false}, "axis": null}
          }
        }
      ]
    },
    {
      "data": {"name": "flow"},
      "mark": {"type": "line", "color": "#000000", "strokeWidth": 1.6, "clip": true},
      "encoding": {
        "x": {"field": "t", "type": "quantitative", "scale": {"domain": [0, 1920], "nice": false, "zero": false}, "axis": null},
        "y": {"field": "a", "type": "quantitative", "scale": {"domain": [-1166.7, 273.3], "nice": false, "zero": false}, "axis": null},
        "detail": {"field": "seg", "type": "nominal"}
      }
    },
    {
      "layer": [
        {
          "data": {"name": "grid"},
          "mark": {"type": "rule", "strokeWidth": 2},
          "encoding": {
            "x": {"field": "t", "type": "quantitative", "scale": {"domain": [0, 1920], "nice": false, "zero": false}, "axis": null},
            "y": {"datum": 91, "type": "quantitative", "scale": {"domain": [-1077, 363], "nice": false, "zero": false}, "axis": null},
            "y2": {"datum": -1077},
            "color": {"condition": {"test": "datum.kind === 'major'", "value": "#6b6662"}, "value": "#cdcdcd"}
          }
        },
        {
          "data": {"values": [{"label": "Pressure"}]},
          "mark": {"type": "text", "font": "Liberation Sans", "fontWeight": "bold", "fontSize": 47, "color": "#660033", "align": "left", "baseline": "alphabetic"},
          "encoding": {
            "x": {"datum": 67, "type": "quantitative", "scale": {"domain": [0, 1920], "nice": false, "zero": false}, "axis": null},
            "y": {"datum": 20, "type": "quantitative", "scale": {"domain": [-1077, 363], "nice": false, "zero": false}, "axis": null},
            "text": {"field": "label"}
          }
        },
        {
          "data": {"name": "pressure"},
          "mark": {"type": "line", "color": "#000000", "strokeWidth": 2, "clip": true},
          "encoding": {
            "x": {"field": "t", "type": "quantitative", "scale": {"domain": [0, 1920], "nice": false, "zero": false}, "axis": null},
            "y": {"field": "a", "type": "quantitative", "scale": {"domain": [-1077, 363], "nice": false, "zero": false}, "axis": null}
          }
        }
      ]
    },
    {
      "layer": [
        {
          "data": {"values": [{"label": "Snore"}]},
          "mark": {"type": "text", "font": "Liberation Sans", "fontWeight": "bold", "fontSize": 47, "color": "#660033", "align": "left", "baseline": "alphabetic"},
          "encoding": {
            "x": {"datum": 67, "type": "quantitative", "scale": {"domain": [0, 1920], "nice": false, "zero": false}, "axis": null},
            "y": {"datum": 15, "type": "quantitative", "scale": {"domain": [-905, 535], "nice": false, "zero": false}, "axis": null},
            "text": {"field": "label"}
          }
        },
        {
          "data": {"values": [{"label": "10 seconds"}]},
          "mark": {"type": "text", "font": "Liberation Sans", "fontSize": 36, "color": "#660033", "align": "left", "baseline": "alphabetic"},
          "encoding": {
            "x": {"datum": 357, "type": "quantitative", "scale": {"domain": [0, 1920], "nice": false, "zero": false}, "axis": null},
            "y": {"datum": 42, "type": "quantitative", "scale": {"domain": [-905, 535], "nice": false, "zero": false}, "axis": null},
            "text": {"field": "label"}
          }
        },
        {
          "data": {"name": "bracket"},
          "mark": {"type": "line", "color": "#660033", "strokeWidth": 4, "strokeCap": "square", "strokeJoin": "miter"},
          "encoding": {
            "x": {"field": "t", "type": "quantitative", "scale": {"domain": [0, 1920], "nice": false, "zero": false}, "axis": null},
            "y": {"field": "a", "type": "quantitative", "scale": {"domain": [-905, 535], "nice": false, "zero": false}, "axis": null},
            "order": {"field": "i", "type": "quantitative"}
          }
        },
        {
          "data": {"name": "snore"},
          "mark": {"type": "line", "color": "#1a1a1a", "strokeWidth": 2.5},
          "encoding": {
            "x": {"field": "t", "type": "quantitative", "scale": {"domain": [0, 1920], "nice": false, "zero": false}, "axis": null},
            "y": {"field": "a", "type": "quantitative", "scale": {"domain": [-905, 535], "nice": false, "zero": false}, "axis": null}
          }
        }
      ]
    },
    {
      "layer": [
        {
          "data": {"name": "spo2grid"},
          "mark": {"type": "rule", "color": "#1a1aff", "strokeWidth": 2.3, "strokeDash": [3, 3.7]},
          "encoding": {
            "x": {"datum": 6, "type": "quantitative", "scale": {"domain": [0, 1920], "nice": false, "zero": false}, "axis": null},
            "x2": {"datum": 1920},
            "y": {"field": "v", "type": "quantitative", "scale": {"domain": [-49.86, 234.72], "nice": false, "zero": false}, "axis": null}
          }
        },
        {
          "data": {"values": [{"label": "SpO"}]},
          "mark": {"type": "text", "font": "Liberation Sans", "fontWeight": "bold", "fontSize": 47, "color": "#660033", "align": "left", "baseline": "alphabetic"},
          "encoding": {
            "x": {"datum": 67, "type": "quantitative", "scale": {"domain": [0, 1920], "nice": false, "zero": false}, "axis": null},
            "y": {"datum": 84.5, "type": "quantitative", "scale": {"domain": [-49.86, 234.72], "nice": false, "zero": false}, "axis": null},
            "text": {"field": "label"}
          }
        },
        {
          "data": {"values": [{"label": "2"}]},
          "mark": {"type": "text", "font": "Liberation Sans", "fontWeight": "bold", "fontSize": 32, "color": "#660033", "align": "left", "baseline": "alphabetic"},
          "encoding": {
            "x": {"datum": 164, "type": "quantitative", "scale": {"domain": [0, 1920], "nice": false, "zero": false}, "axis": null},
            "y": {"datum": 82.2, "type": "quantitative", "scale": {"domain": [-49.86, 234.72], "nice": false, "zero": false}, "axis": null},
            "text": {"field": "label"}
          }
        },
        {
          "data": {"name": "readings"},
          "mark": {"type": "text", "font": "Liberation Sans", "fontSize": 46, "color": "#ff0000", "align": "center", "baseline": "alphabetic"},
          "encoding": {
            "x": {"field": "t", "type": "quantitative", "scale": {"domain": [0, 1920], "nice": false, "zero": false}, "axis": null},
            "y": {"datum": 102.65, "type": "quantitative", "scale": {"domain": [-49.86, 234.72], "nice": false, "zero": false}, "axis": null},
            "text": {"field": "spo2"}
          }
        },
        {
          "data": {"name": "spo2"},
          "mark": {"type": "line", "color": "#ff0000", "strokeWidth": 2.5, "interpolate": "step-after"},
          "encoding": {
            "x": {"field": "t", "type": "quantitative", "scale": {"domain": [0, 1920], "nice": false, "zero": false}, "axis": null},
            "y": {"field": "v", "type": "quantitative", "scale": {"domain": [-49.86, 234.72], "nice": false, "zero": false}, "axis": null}
          }
        }
      ]
    },
    {
      "layer": [
        {
          "data": {"values": [{"label": "RIP Sum"}]},
          "mark": {"type": "text", "font": "Liberation Sans", "fontWeight": "bold", "fontSize": 47, "color": "#660033", "align": "left", "baseline": "alphabetic"},
          "encoding": {
            "x": {"datum": 67, "type": "quantitative", "scale": {"domain": [0, 1920], "nice": false, "zero": false}, "axis": null},
            "y": {"datum": -8, "type": "quantitative", "scale": {"domain": [-495, 945], "nice": false, "zero": false}, "axis": null},
            "text": {"field": "label"}
          }
        },
        {
          "data": {"name": "ripsum"},
          "mark": {"type": "line", "color": "#000000", "strokeWidth": 1.7, "clip": true},
          "encoding": {
            "x": {"field": "t", "type": "quantitative", "scale": {"domain": [0, 1920], "nice": false, "zero": false}, "axis": null},
            "y": {"field": "a", "type": "quantitative", "scale": {"domain": [-495, 945], "nice": false, "zero": false}, "axis": null}
          }
        }
      ]
    },
    {
      "layer": [
        {
          "data": {"values": [{"label": "RIP RC"}]},
          "mark": {"type": "text", "font": "Liberation Sans", "fontWeight": "bold", "fontSize": 47, "color": "#660033", "align": "left", "baseline": "alphabetic"},
          "encoding": {
            "x": {"datum": 67, "type": "quantitative", "scale": {"domain": [0, 1920], "nice": false, "zero": false}, "axis": null},
            "y": {"datum": -118, "type": "quantitative", "scale": {"domain": [-430, 1010], "nice": false, "zero": false}, "axis": null},
            "text": {"field": "label"}
          }
        },
        {
          "data": {"name": "riprc"},
          "mark": {"type": "line", "color": "#000000", "strokeWidth": 1.7, "clip": true},
          "encoding": {
            "x": {"field": "t", "type": "quantitative", "scale": {"domain": [0, 1920], "nice": false, "zero": false}, "axis": null},
            "y": {"field": "a", "type": "quantitative", "scale": {"domain": [-430, 1010], "nice": false, "zero": false}, "axis": null}
          }
        }
      ]
    },
    {
      "layer": [
        {
          "data": {"values": [{"label": "RIP ABD"}]},
          "mark": {"type": "text", "font": "Liberation Sans", "fontWeight": "bold", "fontSize": 47, "color": "#660033", "align": "left", "baseline": "alphabetic"},
          "encoding": {
            "x": {"datum": 67, "type": "quantitative", "scale": {"domain": [0, 1920], "nice": false, "zero": false}, "axis": null},
            "y": {"datum": 33, "type": "quantitative", "scale": {"domain": [-150, 1290], "nice": false, "zero": false}, "axis": null},
            "text": {"field": "label"}
          }
        },
        {
          "data": {"name": "readings"},
          "mark": {"type": "text", "font": "Liberation Sans", "fontSize": 46, "color": "#000000", "align": "center", "baseline": "alphabetic"},
          "encoding": {
            "x": {"field": "t", "type": "quantitative", "scale": {"domain": [0, 1920], "nice": false, "zero": false}, "axis": null},
            "y": {"datum": -104.3, "type": "quantitative", "scale": {"domain": [-150, 1290], "nice": false, "zero": false}, "axis": null},
            "text": {"field": "hr"}
          }
        },
        {
          "data": {"name": "ripabd"},
          "mark": {"type": "line", "color": "#000000", "strokeWidth": 1.7, "clip": true},
          "encoding": {
            "x": {"field": "t", "type": "quantitative", "scale": {"domain": [0, 1920], "nice": false, "zero": false}, "axis": null},
            "y": {"field": "a", "type": "quantitative", "scale": {"domain": [-150, 1290], "nice": false, "zero": false}, "axis": null}
          }
        }
      ]
    }
  ]
}
